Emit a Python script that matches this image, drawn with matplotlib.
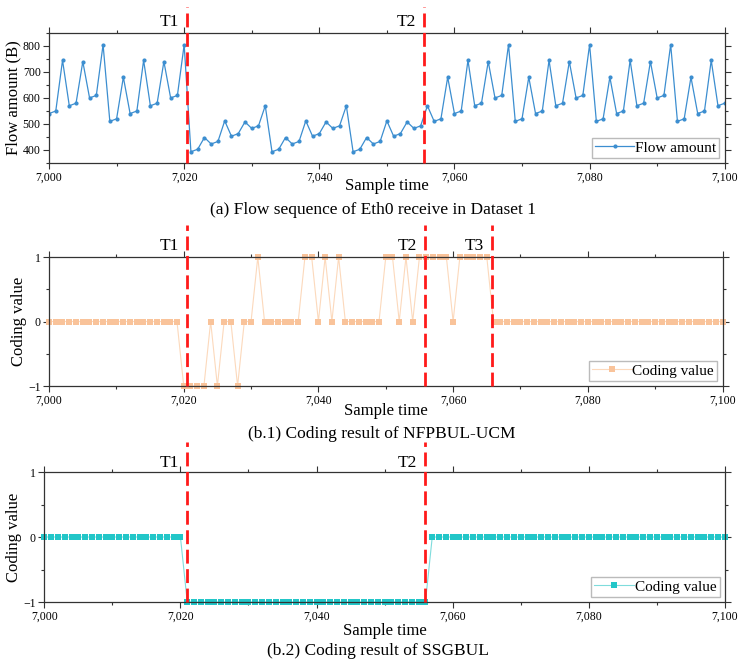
import numpy as np
import matplotlib.pyplot as plt
from matplotlib.ticker import MultipleLocator, FuncFormatter

plt.rcParams['font.family'] = ['Liberation Serif', 'DejaVu Serif']

# Sample time axis
tempo = np.arange(7000, 7101)

# (a) Flow amount of Eth0 receive (B)
fluxo = [540, 550, 745, 570, 580, 740, 600, 610, 805, 510, 520, 680,
         540, 550, 745, 570, 580, 740, 600, 610, 805,
         393, 403, 448, 423, 433, 512, 453, 463, 508, 483, 493, 570,
         393, 403, 448, 423, 433, 512, 453, 463, 508, 483, 493, 570,
         393, 403, 448, 423, 433, 512, 453, 463, 508, 483, 493, 570,
         510, 520, 680, 540, 550, 745, 570, 580, 740, 600, 610, 805,
         510, 520, 680, 540, 550, 745, 570, 580, 740, 600, 610, 805,
         510, 520, 680, 540, 550, 745, 570, 580, 740, 600, 610, 805,
         510, 520, 680, 540, 550, 745, 570, 580]

# (b.1) NFPBUL-UCM coding
codigo_ucm = ([0] * 20 + [-1, -1, -1, -1, 0, -1, 0, 0, -1, 0, 0, 1]
              + [0] * 6 + [1, 1, 0, 1, 0, 1] + [0] * 6
              + [1, 1, 0, 1, 0] + [1] * 5 + [0] + [1] * 5 + [0] * 35)

# (b.2) SSGBUL coding
codigo_ssg = [0] * 21 + [-1] * 36 + [0] * 44

# change points
linhas_a = {"T1": 7020.4, "T2": 7055.5}
linhas_b1 = {"T1": 7020.5, "T2": 7055.8, "T3": 7065.8}
linhas_b2 = {"T1": 7021.0, "T2": 7056.0}

fig = plt.figure(figsize=(7.45, 6.65), dpi=100)

ax1 = fig.add_axes([0.0658, 0.7549, 0.907, 0.1955])
ax2 = fig.add_axes([0.0658, 0.4195, 0.904, 0.194])
ax3 = fig.add_axes([0.0595, 0.0947, 0.9135, 0.1955])

virgula = FuncFormatter(lambda v, p: f"{v:,.0f}")


def estilo(ax, xlab_y, ylab_x, ylab):
    ax.set_xlim(7000, 7100)
    ax.xaxis.set_major_locator(MultipleLocator(20))
    ax.xaxis.set_minor_locator(MultipleLocator(10))
    ax.xaxis.set_major_formatter(virgula)
    ax.tick_params(which='both', direction='out', top=True, right=True,
                   labeltop=False, labelright=False, color='#333333',
                   width=0.8, labelsize=8.5, pad=2)
    ax.tick_params(which='major', length=4)
    ax.tick_params(which='minor', length=2.5)
    for s in ax.spines.values():
        s.set_color('#333333')
        s.set_linewidth(0.9)
    ax.set_xlabel("Sample time", fontsize=12, va='center')
    ax.xaxis.set_label_coords(0.5, xlab_y)
    ax.set_ylabel(ylab, fontsize=12, va='center')
    ax.yaxis.set_label_coords(ylab_x, 0.5)


def linhas(ax, pos, topo, ytexto):
    for nome, x in pos.items():
        ax.axvline(x, ymin=0, ymax=topo, color='#FF1A1A', lw=2,
                   ls=(0, (5, 2)), clip_on=False, zorder=5)
        ax.text(x - 1.2, ytexto, nome, transform=ax.get_xaxis_transform(),
                ha='right', va='center', fontsize=12.5)


def legenda(ax):
    ax.legend(loc='lower right', fontsize=11, fancybox=False, edgecolor='#BBBBBB',
              handlelength=2.6, handletextpad=0.05, borderpad=0.2,
              borderaxespad=0.35, framealpha=1)


# (a)
ax1.plot(tempo, fluxo, color='#3C8ED0', lw=0.9, marker='o', ms=2,
         label='Flow amount')
ax1.set_ylim(350, 850)
ax1.yaxis.set_major_locator(MultipleLocator(100))
ax1.yaxis.set_minor_locator(MultipleLocator(50))
estilo(ax1, -0.177, -0.053, "Flow amount (B)")
linhas(ax1, linhas_a, 1.2, 1.085)
legenda(ax1)

# (b.1)
ax2.plot(tempo, codigo_ucm, color='#FCD9BC', lw=0.8, marker='s', ms=4.4,
         mfc='#F9C39A', mew=0, label='Coding value', clip_on=False)
ax2.set_ylim(-1, 1)
ax2.set_yticks([-1, 0, 1])
ax2.yaxis.set_minor_locator(MultipleLocator(0.5))
estilo(ax2, -0.194, -0.045, "Coding value")
linhas(ax2, linhas_b1, 1.25, 1.085)
legenda(ax2)

# (b.2)
ax3.plot(tempo, codigo_ssg, color='#7FDCDC', lw=0.8, marker='s', ms=4.2,
         mfc='#22C6C8', mew=0, label='Coding value', clip_on=False)
ax3.set_ylim(-1, 1)
ax3.set_yticks([-1, 0, 1])
ax3.yaxis.set_minor_locator(MultipleLocator(0.5))
estilo(ax3, -0.223, -0.044, "Coding value")
linhas(ax3, linhas_b2, 1.23, 1.07)
legenda(ax3)

fig.text(0.5, 1 - 210 / 665, "(a) Flow sequence of Eth0 receive in Dataset 1",
         ha='center', va='center', fontsize=12.5)
fig.text(0.513, 1 - 434 / 665, "(b.1) Coding result of NFPBUL-UCM",
         ha='center', va='center', fontsize=12.5)
fig.text(0.507, 1 - 651 / 665, "(b.2) Coding result of SSGBUL",
         ha='center', va='center', fontsize=12.5)

plt.savefig("out.png", dpi=100)
